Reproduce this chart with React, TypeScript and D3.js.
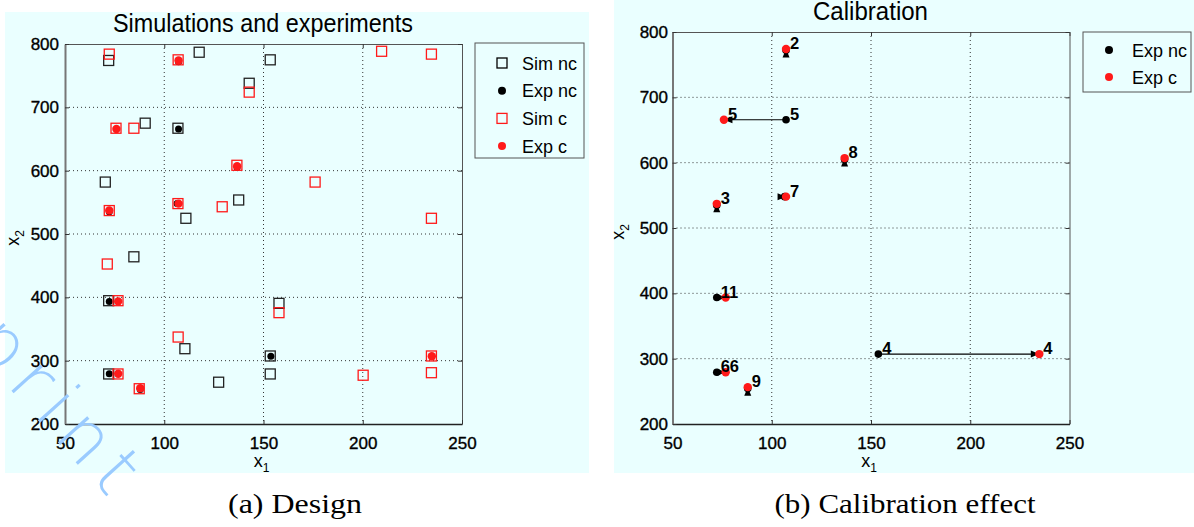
import { useEffect, useRef } from 'react';
import * as d3 from 'd3';

// axis ticks (shared by both panels)
const x1Ticks = [50, 100, 150, 200, 250];
const x2Ticks = [200, 300, 400, 500, 600, 700, 800];

// simulations without calibration (x1, x2)
const simNcX1 = [72, 117.6, 153.4, 142.8, 90.4, 106.9, 70.3, 137.5, 110.9, 84.7, 72, 157.8, 110.4, 153.4, 72, 153.4, 127.4];
const simNcX2 = [774, 787, 775, 738, 675, 667, 582, 553.7, 524.8, 464, 394.7, 390.5, 318.9, 307.4, 279, 279, 266];

// simulations after calibration (x1, x2)
const simCX1 = [72.3, 107, 142.8, 209.5, 234.6, 75.7, 84.7, 136.6, 176, 72.3, 106.9, 129.2, 234.6, 71.3, 76.7, 157.8, 107, 234.6, 76.7, 200.2, 234.6, 87.4];
const simCX2 = [784, 775, 724, 788.5, 784, 667, 667, 608.5, 582, 537, 548, 543, 524.8, 452.6, 394.7, 375.8, 337.3, 307.4, 279, 277, 281, 255.7];

// experiments: number, position without calibration, position with calibration
const expIds = ['2', '3', '4', '5', '6', '7', '8', '9', '11'];
const expNcX1 = [107.2, 72.3, 153.7, 107.2, 72.3, 106.5, 136.7, 87.9, 72.3];
const expNcX2 = [772, 535, 307, 665.7, 279.3, 548, 605, 254.4, 393.6];
const expCX1 = [107.2, 72.3, 234.8, 75.9, 76.8, 107.2, 136.7, 87.9, 76.8];
const expCX2 = [774, 537, 307, 665.7, 279.3, 548, 607, 256.4, 393.6];

// which experiment numbers get a label at which end
const ncLabelIds = ['4', '5', '6', '11'];
const cLabelIds = ['2', '3', '4', '5', '6', '7', '8', '9'];

const designLegend = ['Sim nc', 'Exp nc', 'Sim c', 'Exp c'];
const calibLegend = ['Exp nc', 'Exp c'];

const BG = '#eaffff';
const RED = '#ff1a1a';
const SANS = '"Liberation Sans", Arial, Helvetica, sans-serif';

function drawAxes(g, x, y, labelPad) {
  const [left, right] = x.range();
  const [bottom, top] = y.range();

  // dotted grid
  g.append('g').selectAll('line')
    .data(x1Ticks.slice(1, -1))
    .join('line')
    .attr('x1', d => x(d)).attr('x2', d => x(d))
    .attr('y1', top).attr('y2', bottom)
    .attr('stroke', '#333').attr('stroke-dasharray', '1,3');

  g.append('g').selectAll('line')
    .data(x2Ticks.slice(1, -1))
    .join('line')
    .attr('x1', left).attr('x2', right)
    .attr('y1', d => y(d)).attr('y2', d => y(d))
    .attr('stroke', '#333').attr('stroke-dasharray', '1,3');

  const style = (ax, domainColor, domainWidth) => {
    ax.select('.domain').attr('stroke', domainColor).attr('stroke-width', domainWidth);
    ax.selectAll('.tick line').attr('stroke', '#333');
    ax.selectAll('text')
      .attr('font-family', SANS)
      .attr('font-size', 17)
      .attr('fill', '#000')
      .attr('stroke', '#000')
      .attr('stroke-width', 0.35);
  };

  // top and right: ticks only
  style(g.append('g').attr('transform', `translate(0,${top})`)
    .call(d3.axisTop(x).tickValues(x1Ticks).tickSize(-4).tickSizeOuter(0).tickFormat(() => '')), '#555', 1);
  style(g.append('g').attr('transform', `translate(${right},0)`)
    .call(d3.axisRight(y).tickValues(x2Ticks).tickSize(-4).tickSizeOuter(0).tickFormat(() => '')), '#555', 1);

  style(g.append('g').attr('transform', `translate(0,${bottom})`)
    .call(d3.axisBottom(x).tickValues(x1Ticks).tickSize(-4).tickSizeOuter(0).tickPadding(13)), '#222', 1.5);
  style(g.append('g').attr('transform', `translate(${left},0)`)
    .call(d3.axisLeft(y).tickValues(x2Ticks).tickSize(-4).tickSizeOuter(0).tickPadding(labelPad)), '#777', 2);
}

function axisLabels(g, x, y, yLabelX) {
  const [left, right] = x.range();
  const [bottom, top] = y.range();

  const xl = g.append('text')
    .attr('x', (left + right) / 2 - 2)
    .attr('y', bottom + 43)
    .attr('text-anchor', 'middle')
    .attr('font-family', SANS)
    .attr('font-size', 18);
  xl.append('tspan').text('x');
  xl.append('tspan').attr('font-size', 12).attr('dy', 5).text('1');

  const yl = g.append('text')
    .attr('transform', `translate(${yLabelX},${(top + bottom) / 2 + 4}) rotate(-90)`)
    .attr('text-anchor', 'middle')
    .attr('font-family', SANS)
    .attr('font-size', 18);
  yl.append('tspan').text('x');
  yl.append('tspan').attr('font-size', 12).attr('dy', 5).text('2');
}

function squares(g, xs, ys, x, y, color) {
  g.append('g').selectAll('rect')
    .data(xs.map((d, i) => [d, ys[i]]))
    .join('rect')
    .attr('x', d => x(d[0]) - 5)
    .attr('y', d => y(d[1]) - 5)
    .attr('width', 10)
    .attr('height', 10)
    .attr('fill', 'none')
    .attr('stroke', color)
    .attr('stroke-width', 1.3);
}

function dots(g, xs, ys, x, y, color, r) {
  g.append('g').selectAll('circle')
    .data(xs.map((d, i) => [d, ys[i]]))
    .join('circle')
    .attr('cx', d => x(d[0]))
    .attr('cy', d => y(d[1]))
    .attr('r', r)
    .attr('fill', color);
}

function App() {
  const svgRef = useRef(null);

  useEffect(() => {
    const svg = d3.select(svgRef.current);
    svg.selectAll('*').remove();

    // panel backgrounds
    svg.append('rect').attr('x', 5).attr('y', 12).attr('width', 584).attr('height', 461).attr('fill', BG);
    svg.append('rect').attr('x', 614).attr('y', 0).attr('width', 580).attr('height', 473).attr('fill', BG);

    // ---------- (a) Design ----------
    const xa = d3.scaleLinear().domain([50, 250]).range([65, 462]);
    const ya = d3.scaleLinear().domain([200, 800]).range([424, 44]);
    const ga = svg.append('g');

    drawAxes(ga, xa, ya, 6);
    axisLabels(ga, xa, ya, 19);

    ga.append('text')
      .attr('x', 263).attr('y', 32)
      .attr('text-anchor', 'middle')
      .attr('font-family', SANS).attr('font-size', 26)
      .attr('textLength', 300).attr('lengthAdjust', 'spacingAndGlyphs')
      .text('Simulations and experiments');

    squares(ga, simNcX1, simNcX2, xa, ya, '#222');
    dots(ga, expNcX1, expNcX2, xa, ya, '#000', 3.5);
    squares(ga, simCX1, simCX2, xa, ya, RED);
    dots(ga, expCX1, expCX2, xa, ya, RED, 4.2);

    // legend
    ga.append('rect')
      .attr('x', 475).attr('y', 43).attr('width', 109).attr('height', 115)
      .attr('fill', BG).attr('stroke', '#555');
    const rowsA = ga.append('g').selectAll('g')
      .data(designLegend)
      .join('g')
      .attr('transform', (d, i) => `translate(0,${63 + i * 27.7})`);
    rowsA.each(function (d, i) {
      const row = d3.select(this);
      const color = i < 2 ? '#000' : RED;
      if (i % 2 === 0) {
        row.append('rect').attr('x', 497).attr('y', -5).attr('width', 10).attr('height', 10)
          .attr('fill', 'none').attr('stroke', color).attr('stroke-width', 1.3);
      } else {
        row.append('circle').attr('cx', 502).attr('cy', 0).attr('r', 4).attr('fill', color);
      }
      row.append('text').attr('x', 522).attr('y', 6.5)
        .attr('font-family', SANS).attr('font-size', 18).text(d);
    });

    // ---------- (b) Calibration effect ----------
    const xb = d3.scaleLinear().domain([50, 250]).range([672.5, 1069.5]);
    const yb = d3.scaleLinear().domain([200, 800]).range([424, 32]);
    const gb = svg.append('g');

    drawAxes(gb, xb, yb, 4.5);
    axisLabels(gb, xb, yb, 624);

    gb.append('text')
      .attr('x', 870.5).attr('y', 20)
      .attr('text-anchor', 'middle')
      .attr('font-family', SANS).attr('font-size', 25)
      .attr('textLength', 115).attr('lengthAdjust', 'spacingAndGlyphs')
      .text('Calibration');

    const exps = expIds.map((id, i) => ({
      id,
      nc: [xb(expNcX1[i]), yb(expNcX2[i])],
      c: [xb(expCX1[i]), yb(expCX2[i])],
    }));

    dots(gb, expNcX1, expNcX2, xb, yb, '#000', 3.8);

    // arrows from uncalibrated to calibrated
    gb.append('g').selectAll('line')
      .data(exps)
      .join('line')
      .attr('x1', d => d.nc[0]).attr('y1', d => d.nc[1])
      .attr('x2', d => d.c[0]).attr('y2', d => d.c[1])
      .attr('stroke', '#000').attr('stroke-width', 1.1);

    gb.append('g').selectAll('path')
      .data(exps)
      .join('path')
      .attr('d', d => {
        const ang = Math.atan2(d.c[1] - d.nc[1], d.c[0] - d.nc[0]);
        const ux = Math.cos(ang), uy = Math.sin(ang);
        const bx = d.c[0] - ux * 8.5, by = d.c[1] - uy * 8.5;
        return `M${d.c[0]},${d.c[1]}L${bx - uy * 3.5},${by + ux * 3.5}L${bx + uy * 3.5},${by - ux * 3.5}Z`;
      })
      .attr('fill', '#000');

    dots(gb, expCX1, expCX2, xb, yb, RED, 4.2);

    const label = (d, end) => gb.append('text')
      .attr('x', d[end][0] + 4).attr('y', d[end][1])
      .attr('font-family', SANS).attr('font-size', 16.5).attr('font-weight', 'bold')
      .text(d.id);
    exps.filter(d => ncLabelIds.includes(d.id)).forEach(d => label(d, 'nc'));
    exps.filter(d => cLabelIds.includes(d.id)).forEach(d => label(d, 'c'));

    // legend
    gb.append('rect')
      .attr('x', 1083).attr('y', 32).attr('width', 108).attr('height', 60)
      .attr('fill', BG).attr('stroke', '#555');
    const rowsB = gb.append('g').selectAll('g')
      .data(calibLegend)
      .join('g')
      .attr('transform', (d, i) => `translate(0,${50 + i * 27})`);
    rowsB.append('circle').attr('cx', 1109).attr('cy', 0).attr('r', 4)
      .attr('fill', (d, i) => (i === 0 ? '#000' : RED));
    rowsB.append('text').attr('x', 1132).attr('y', 6.5)
      .attr('font-family', SANS).attr('font-size', 18).text(d => d);

    // captions
    svg.append('text')
      .attr('x', 295).attr('y', 513)
      .attr('text-anchor', 'middle')
      .attr('font-family', '"Liberation Serif", "Times New Roman", serif').attr('font-size', 28)
      .attr('textLength', 134).attr('lengthAdjust', 'spacingAndGlyphs')
      .text('(a) Design');
    svg.append('text')
      .attr('x', 905).attr('y', 513)
      .attr('text-anchor', 'middle')
      .attr('font-family', '"Liberation Serif", "Times New Roman", serif').attr('font-size', 28)
      .attr('textLength', 261).attr('lengthAdjust', 'spacingAndGlyphs')
      .text('(b) Calibration effect');

    // preprint watermark
    svg.append('text')
      .attr('transform', 'translate(-128,236) rotate(48)')
      .attr('font-family', '"DejaVu Sans", sans-serif')
      .attr('font-size', 72)
      .attr('font-weight', 200)
      .attr('letter-spacing', 10)
      .attr('fill', '#9acbff')
      .text('Preprint');
  }, []);

  return (
    <svg
      ref={svgRef}
      width={1194}
      height={527}
      style={{ position: 'absolute', left: 0, top: 0, background: '#fff' }}
    />
  );
}

export default App;
